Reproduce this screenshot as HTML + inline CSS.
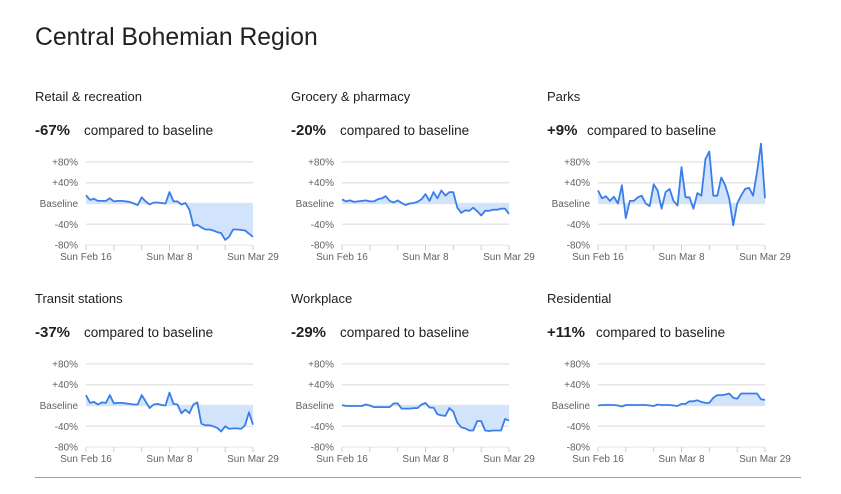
<!DOCTYPE html>
<html><head><meta charset="utf-8"><style>
body{margin:0;background:#fff;width:841px;height:489px;overflow:hidden;font-family:"Liberation Sans",sans-serif;}
</style></head><body>
<svg id="s" width="841" height="489" xmlns="http://www.w3.org/2000/svg" font-family="Liberation Sans, sans-serif">
<text x="35" y="45" font-size="24.7" fill="#202124">Central Bohemian Region</text>
<line x1="35" y1="477.5" x2="801" y2="477.5" stroke="#9e9e9e" stroke-width="1"/>
</svg>
<script>
var S=document.getElementById('s'),NS='http://www.w3.org/2000/svg';
function el(t,a,txt){var e=document.createElementNS(NS,t);for(var k in a)e.setAttribute(k,a[k]);if(txt!=null)e.textContent=txt;S.appendChild(e);return e;}
var P=[
["Retail & recreation","-67%",0,0,[16,7,9,5,5,5,10,4,5,5,4,3,0,-3,12,4,-2,2,2,1,0,22,4,4,-2,1,-12,-43,-41,-46,-50,-50,-52,-55,-57,-70,-64,-50,-50,-51,-52,-58,-64]],
["Grocery & pharmacy","-20%",256,0,[8,4,6,3,4,5,6,4,4,8,10,14,5,2,6,1,-3,0,1,3,8,18,5,22,10,25,15,22,22,-8,-18,-13,-14,-8,-15,-23,-14,-14,-12,-12,-10,-10,-20]],
["Parks","+9%",512,0,[25,10,14,5,13,0,35,-28,5,5,12,15,0,-5,37,25,-10,22,28,5,-4,70,12,12,-10,20,15,85,100,15,15,50,35,10,-42,0,15,28,30,15,60,115,10]],
["Transit stations","-37%",0,202,[20,5,7,2,6,5,20,4,5,5,4,3,2,2,20,8,-5,2,3,1,0,25,3,2,-15,-8,-15,2,6,-35,-38,-38,-40,-43,-50,-40,-45,-44,-44,-45,-38,-13,-37]],
["Workplace","-29%",256,202,[1,-1,-1,-1,-1,-1,2,0,-3,-3,-3,-3,-3,4,4,-6,-6,-6,-5,-5,2,5,-4,-4,-17,-19,-20,-5,-12,-33,-42,-44,-48,-48,-30,-30,-48,-49,-48,-48,-48,-26,-29]],
["Residential","+11%",512,202,[0,1,1,1,1,0,-2,1,1,1,1,1,1,0,-1,2,1,1,1,0,-1,3,3,8,8,10,7,5,5,15,20,20,21,23,15,13,23,23,23,23,23,12,11]]
];
P.forEach(function(p){
 var ox=p[2],oy=p[3],x0=86+ox,x1=253+ox,by=203.5+oy,k=0.52;
 el('text',{x:35+ox,y:101+oy,'font-size':13,fill:'#202124'},p[0]);
 el('text',{x:35+ox,y:135+oy,'font-size':15,'font-weight':'bold',fill:'#202124'},p[1]);
 el('text',{x:35+ox+(p[1].length>3?49:40),y:135+oy,'font-size':13.5,fill:'#202124'},'compared to baseline');
 var labs=[["+80%",80],["+40%",40],["Baseline",0],["-40%",-40],["-80%",-80]];
 labs.forEach(function(l){var y=by-l[1]*k;
  if(l[1]>-80)el('line',{x1:x0,x2:x1,y1:y,y2:y,stroke:'#e6e6e6','stroke-width':1.5});
  el('text',{x:x0-8,y:y+3.5,'font-size':10,fill:'#5f6368','text-anchor':'end'},l[0]);});
 var yb=by+80*k;
 el('line',{x1:x0,x2:x1,y1:yb,y2:yb,stroke:'#e6e6e6','stroke-width':1});
 for(var i=0;i<7;i++){var tx=x0+i*(x1-x0)/6;el('line',{x1:tx,x2:tx,y1:yb,y2:yb+5,stroke:'#ccc','stroke-width':1});}
 [["Sun Feb 16",x0],["Sun Mar 8",x0+(x1-x0)/2],["Sun Mar 29",x1]].forEach(function(t){el('text',{x:t[1],y:yb+15,'font-size':10,fill:'#5f6368','text-anchor':'middle'},t[0]);});
 var d=p[4],dx=(x1-x0)/(d.length-1),pts=d.map(function(v,i){return (x0+i*dx).toFixed(1)+','+(by-v*k).toFixed(1);});
 el('polygon',{points:x0+','+by+' '+pts.join(' ')+' '+x1+','+by,fill:'#d2e3fc'});
 el('polyline',{points:pts.join(' '),fill:'none',stroke:'#3b7de9','stroke-width':1.8,'stroke-linejoin':'round'});
});
</script>
</body></html>
